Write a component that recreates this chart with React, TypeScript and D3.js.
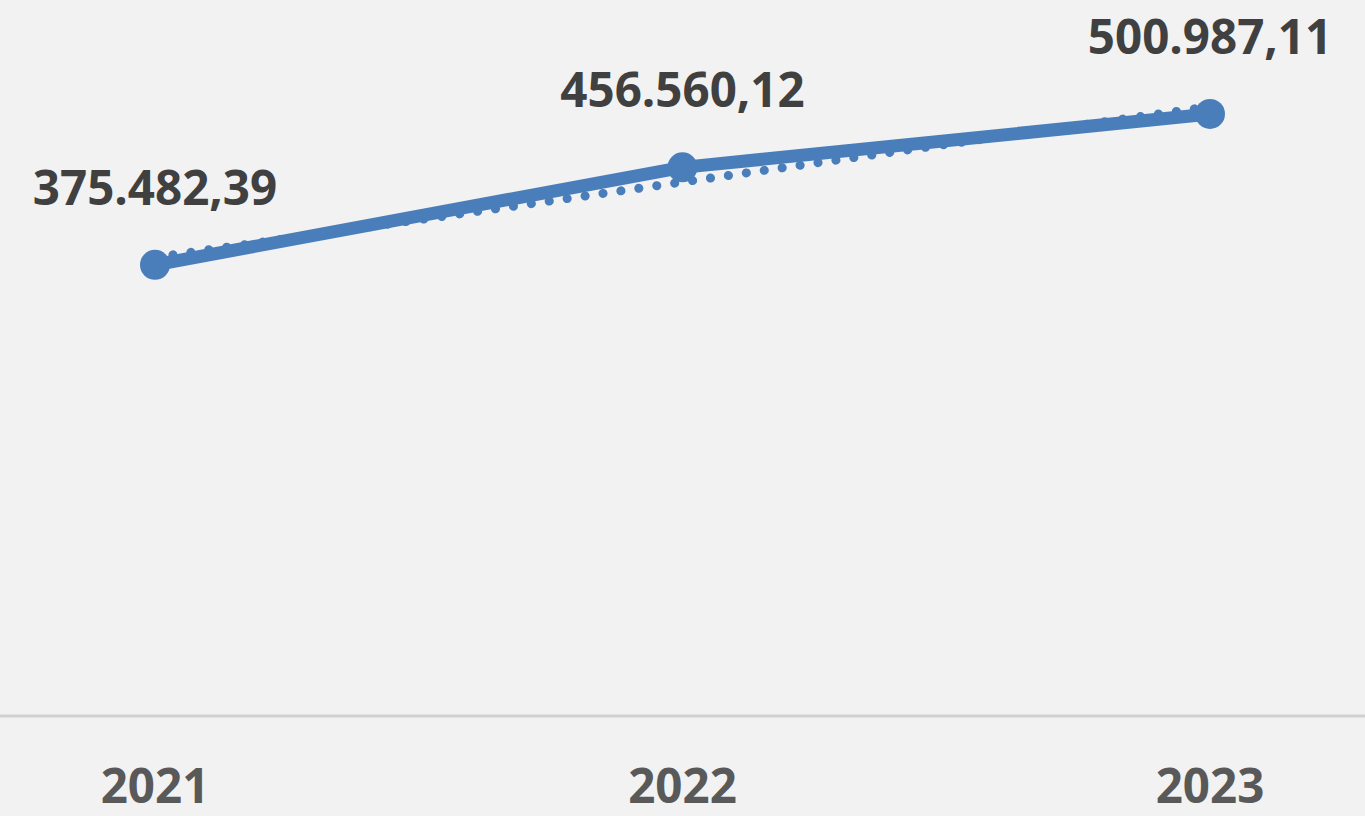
import React from "react";
import * as d3 from "d3";

const years = ["2021", "2022", "2023"];
const values = [375482.39, 456560.12, 500987.11];
const valueLabels = ["375.482,39", "456.560,12", "500.987,11"];

const W = 1365;
const H = 816;
const BLUE = "#4a7ebb";

export default function App() {
  const x = d3.scalePoint<string>().domain(years).range([155, 1210]);
  const y = d3.scaleLinear().domain([0, 600000]).range([716, -5]);

  // linear trend (least squares)
  const idx = values.map((_, i) => i);
  const mx = d3.mean(idx) as number;
  const my = d3.mean(values) as number;
  const slope =
    d3.sum(idx.map((i) => (i - mx) * (values[i] - my))) /
    d3.sum(idx.map((i) => (i - mx) * (i - mx)));
  const intercept = my - slope * mx;
  const trend = idx.map((i) => intercept + slope * i);

  const pts: [number, number][] = values.map((v, i) => [x(years[i]) as number, y(v)]);
  const tpts: [number, number][] = trend.map((v, i) => [x(years[i]) as number, y(v)]);
  const line = d3.line();

  return (
    <svg
      width={W}
      height={H}
      style={{ position: "absolute", left: 0, top: 0, display: "block" }}
    >
      <rect x={0} y={0} width={W} height={H} fill="#f2f2f2" />
      <line x1={0} x2={W} y1={y(0)} y2={y(0)} stroke="#d0d0d0" strokeWidth={3} />
      <path
        d={line(tpts) || ""}
        fill="none"
        stroke={BLUE}
        strokeWidth={9}
        strokeLinecap="round"
        strokeDasharray="0.1 18"
      />
      <path
        d={line(pts) || ""}
        fill="none"
        stroke={BLUE}
        strokeWidth={13}
        strokeLinejoin="round"
        strokeLinecap="round"
      />
      {pts.map((p, i) => (
        <circle key={i} cx={p[0]} cy={p[1]} r={15} fill={BLUE} />
      ))}
      {pts.map((p, i) => (
        <text
          key={"l" + i}
          x={p[0]}
          y={p[1] - 60}
          textAnchor="middle"
          fontFamily="'Open Sans', sans-serif"
          fontWeight={700}
          fontSize={47.5}
          fill="#404040"
        >
          {valueLabels[i]}
        </text>
      ))}
      {years.map((yr) => (
        <text
          key={yr}
          x={x(yr) as number}
          y={803}
          textAnchor="middle"
          fontFamily="'Open Sans', sans-serif"
          fontWeight={700}
          fontSize={47.5}
          fill="#595959"
        >
          {yr}
        </text>
      ))}
    </svg>
  );
}
